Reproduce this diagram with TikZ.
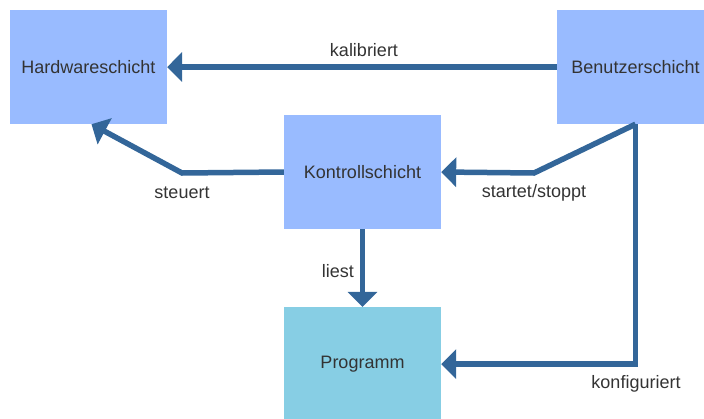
\documentclass[tikz,border=0pt]{standalone}
\usepackage{fontspec}
\setmainfont{Liberation Sans}
\usetikzlibrary{arrows.meta,calc}
\definecolor{boxblue}{HTML}{99BBFF}
\definecolor{progblue}{HTML}{87CEE4}
\definecolor{arrowblue}{HTML}{336699}
\definecolor{txt}{HTML}{333333}
\tikzset{
  layer/.style={fill=boxblue, minimum width=157pt, minimum height=114pt, inner sep=0pt, text=txt, font=\fontsize{18}{22}\selectfont},
  prog/.style={layer, fill=progblue},
  conn/.style={draw=arrowblue, line width=5.5pt, -{Triangle[length=15pt,width=29pt]}},
  lbl/.style={text=txt, font=\fontsize{18}{22}\selectfont, inner sep=0pt}
}
\begin{document}
\begin{tikzpicture}[x=1pt,y=-1pt]
\clip (0,0) rectangle (704,418);
\useasboundingbox (0,0) rectangle (704,418);
\node[layer] (H) at (88.5,67) {Hardwareschicht};
\node[layer] (B) at (635.5,67) {Benutzerschicht};
\node[layer] (K) at (362.5,172) {Kontrollschicht};
\node[prog]  (P) at (362.5,364) {Programm};
\coordinate (hs) at ([xshift=3pt]H.south);
\coordinate (sb) at (182,173);
\coordinate (ss) at (534,173);
\draw[conn] (B.west) -- (H.east);
\draw[conn] (K.west) -- (sb) -- (hs);
\draw[conn] (B.south) -- (ss) -- (K.east);
\draw[conn] (B.south) |- (P.east);
\draw[conn] (K.south) -- (P.north);
\node[lbl] (l1) at (364,50) {kalibriert};
\node[lbl] (l2) at (182,193) {steuert};
\node[lbl] (l3) at (534,193) {startet/stoppt};
\node[lbl] (l4) at (338,271) {liest};
\node[lbl] (l5) at (636,384) {konfiguriert};
\end{tikzpicture}
\end{document}
